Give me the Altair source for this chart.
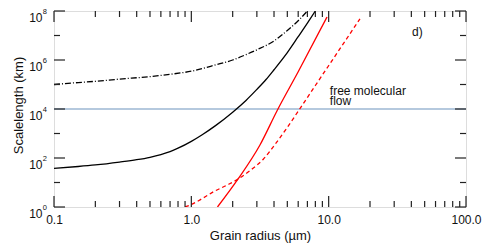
import altair as alt
import pandas as pd

FONT = "Liberation Sans"

# ---- data ----
bd_x = [0.1, 0.15, 0.2, 0.3, 0.5, 0.7, 1.0, 1.5, 2.0, 2.5, 3.0, 4.0, 5.0, 6.0, 7.0]
bd_y = [1.0e5, 1.2e5, 1.35e5, 1.66e5, 2.1e5, 2.6e5, 3.5e5, 6.3e5, 1.0e6, 1.66e6, 2.6e6, 6.0e6, 1.6e7, 4.0e7, 1.0e8]

bs_x = [0.1, 0.15, 0.2, 0.3, 0.4, 0.5, 0.6, 0.7, 0.8, 1.0, 1.2, 1.5, 2.0, 2.5, 3.0, 3.5, 4.0, 5.0, 6.0, 7.0, 8.0]
bs_y = [38, 45, 52, 68, 85, 107, 138, 182, 251, 479, 891, 2.1e3, 7.4e3, 2.24e4, 6.3e4, 1.6e5, 4.0e5, 2.0e6, 8.9e6, 3.2e7, 1.0e8]

rs_x = [1.55, 2.19, 3.16, 4.21, 6.0, 9.73]
rs_y = [1.0, 14, 340, 8.5e3, 3.3e5, 5.7e7]

rd_x = [0.9, 0.98, 1.2, 1.45, 1.8, 2.2, 2.7, 3.34, 4.0, 5.0, 6.0, 8.0, 11.5, 16.9]
rd_y = [1.0, 1.2, 2.2, 4.2, 7.6, 14, 32, 89, 316, 1.78e3, 8.1e3, 9.1e4, 1.9e6, 4.8e7]

flow_level = 1.0e4

x_major = [0.1, 1.0, 10.0, 100.0]
x_minor = [0.2, 0.3, 0.4, 0.5, 0.6, 0.7, 0.8, 0.9,
           2, 3, 4, 5, 6, 7, 8, 9,
           20, 30, 40, 50, 60, 70, 80, 90]
y_major = [1e0, 1e2, 1e4, 1e6, 1e8]
y_major_exp = ["0", "2", "4", "6", "8"]
y_minor = [1e1, 1e3, 1e5, 1e7]

W, H = 412, 196
xs = alt.Scale(type="log", domain=[0.1, 100], nice=False)
ys = alt.Scale(type="log", domain=[1, 1e8], nice=False)

def series(xv, yv):
    return pd.DataFrame({"x": xv, "y": yv})

xaxis = alt.Axis(values=x_major, format=".1f", title="Grain radius (µm)",
                 labelFontSize=12, labelFont=FONT, labelColor="#111",
                 labelPadding=7, labelFlush=False, labelOverlap=False,
                 ticks=False, domain=False, grid=False,
                 titleFont=FONT, titleFontSize=13, titleFontWeight="normal", titleColor="#111",
                 titleX=206, titleY=32, titleBaseline="alphabetic", titleAlign="center")
yaxis = alt.Axis(values=y_major, labelExpr="'10'", title="Scalelength (km)",
                 labelFontSize=12, labelFont=FONT, labelColor="#111",
                 labelPadding=12, labelOffset=6, labelFlush=False, labelOverlap=False,
                 ticks=False, domain=False, grid=False,
                 titleFont=FONT, titleFontSize=13, titleFontWeight="normal", titleColor="#111",
                 titleX=-36, titleY=94, titleAngle=-90, titleAlign="center", titleBaseline="middle")

XE = alt.X("x:Q", scale=xs, axis=xaxis)
YE = alt.Y("y:Q", scale=ys, axis=yaxis)

def line(df, color, dash=None, interp="monotone", width=1.3):
    kw = dict(color=color, strokeWidth=width, clip=True, interpolate=interp)
    if dash:
        kw["strokeDash"] = dash
    return alt.Chart(df).mark_line(**kw).encode(x=XE, y=YE)

hline = alt.Chart(pd.DataFrame({"y": [flow_level]})).mark_rule(
    color="#b5c9de", strokeWidth=2).encode(y=YE)

l_bd = line(series(bd_x, bd_y), "#000000", dash=[6, 2, 1, 2])
l_bs = line(series(bs_x, bs_y), "#000000")
l_rs = line(series(rs_x, rs_y), "#ff0000")
l_rd = line(series(rd_x, rd_y), "#ff0000", dash=[4, 3])

# ticks (inward, all four sides)
TC = "#222"
def xticks(vals, length):
    df = pd.DataFrame({"x": vals})
    b = alt.Chart(df).mark_rule(color=TC, strokeWidth=1.2).encode(
        x=XE, y=alt.value(H), y2=alt.value(H - length))
    t = alt.Chart(df).mark_rule(color=TC, strokeWidth=1.2).encode(
        x=XE, y=alt.value(0), y2=alt.value(length))
    return b + t

def yticks(vals, length):
    df = pd.DataFrame({"y": vals})
    l = alt.Chart(df).mark_rule(color=TC, strokeWidth=1.2).encode(
        y=YE, x=alt.value(0), x2=alt.value(length))
    r = alt.Chart(df).mark_rule(color=TC, strokeWidth=1.2).encode(
        y=YE, x=alt.value(W), x2=alt.value(W - length))
    return l + r

exps = alt.Chart(pd.DataFrame({"y": y_major, "e": y_major_exp})).mark_text(
    font=FONT, fontSize=7.5, align="right", baseline="middle", dy=0.5, color="#111"
).encode(y=YE, x=alt.value(-7), text="e:N")

ann = alt.Chart(pd.DataFrame({"x": [10.2, 10.2], "y": [3.6e4, 1.5e4],
                              "t": ["free molecular", "flow"]})).mark_text(
    font=FONT, fontSize=12, align="left", baseline="alphabetic", color="#111"
).encode(x=XE, y=YE, text="t:N")

panel = alt.Chart(pd.DataFrame({"x": [40.5], "y": [9.6e6], "t": ["d)"]})).mark_text(
    font=FONT, fontSize=12, align="left", baseline="alphabetic", color="#111"
).encode(x=XE, y=YE, text="t:N")

chart = alt.layer(
    hline, l_bd, l_bs, l_rs, l_rd,
    xticks(x_major, 11), xticks(x_minor, 6), yticks(y_major, 11), yticks(y_minor, 6),
    exps, ann, panel,
).properties(
    width=W, height=H,
    autosize=alt.AutoSizeParams(type="none"),
    padding={"left": 46, "top": 3, "right": 17, "bottom": 38},
).configure_view(stroke="#222", strokeWidth=1.5).configure(background="white")

chart.save("out.html", embed_options={"renderer": "svg", "actions": False})
